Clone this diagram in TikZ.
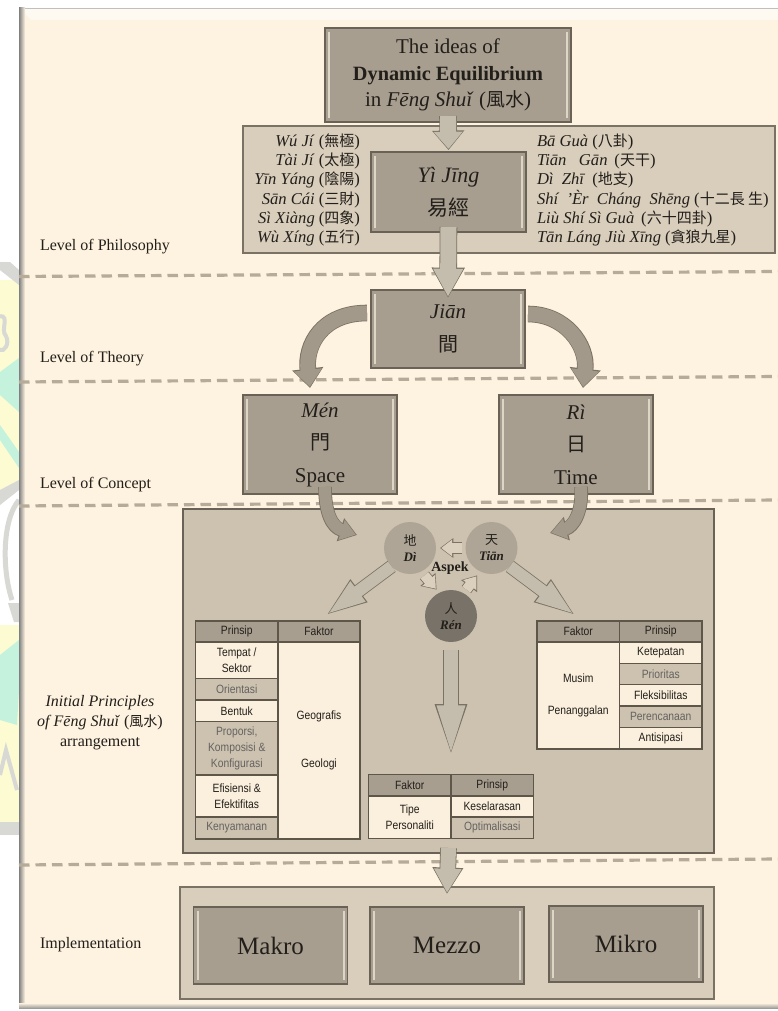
\documentclass[tikz,border=0pt]{standalone}
\usepackage{fontspec}
\setmainfont{Liberation Serif}
\newfontfamily\cjk{Noto Sans CJK TC}
\newfontfamily\tblfont[FakeStretch=0.86]{Liberation Sans}
\usetikzlibrary{arrows.meta,calc,shapes.arrows}
\definecolor{panelbg}{HTML}{FEF2E0}
\definecolor{boxfill}{HTML}{A89E90}
\definecolor{boxline}{HTML}{6A6256}
\definecolor{bevelc}{HTML}{DDD5C6}
\definecolor{philfill}{HTML}{D9CDBC}
\definecolor{bigfill}{HTML}{CDC2B0}
\definecolor{dashc}{HTML}{B5AB98}
\definecolor{inkc}{HTML}{221F1A}
\definecolor{arrowfill}{HTML}{C4BCAC}
\definecolor{arrowline}{HTML}{7A7264}
\definecolor{curvefill}{HTML}{A2998A}
\definecolor{hdrfill}{HTML}{A89E90}
\definecolor{cellcream}{HTML}{FBEFDD}
\definecolor{cellgrey}{HTML}{CDC2B0}
\definecolor{cellline}{HTML}{5E5648}
\definecolor{wmyellow}{HTML}{FCFBD2}
\definecolor{wmgreen}{HTML}{C4F2DC}
\definecolor{wmgrey}{HTML}{D8D8D4}
\newcommand{\cj}[1]{{\cjk #1}}
\newcommand{\tz}[1]{\fontsize{#1}{#1}\selectfont}
\tikzset{
  x=1pt,y=-1pt,
  every node/.style={text=inkc,inner sep=0pt,outer sep=0pt},
  bevel/.style={path picture={
     \draw[bevelc,line width=2pt]
       ([xshift=4pt,yshift=-4pt]path picture bounding box.north west) -- ([xshift=4pt,yshift=4pt]path picture bounding box.south west)
       ([xshift=-4pt,yshift=-4pt]path picture bounding box.north east) -- ([xshift=-4pt,yshift=4pt]path picture bounding box.south east);
  }},
  darkbox/.style={draw=boxline,line width=1.2pt,fill=boxfill,bevel,align=center},
  phbox/.style={draw=arrowline,line width=1.2pt,fill=philfill},
  bigbox/.style={draw=boxline,line width=1.6pt,fill=bigfill},
  level/.style={font=\tz{16},anchor=west},
  cell/.style={draw=cellline,line width=1.1pt,align=center,font=\tblfont\fontsize{12}{16}\selectfont},
  hdr/.style={cell,fill=hdrfill},
  cr/.style={cell,fill=cellcream},
  gr/.style={cell,fill=cellgrey,text=inkc!70},
  circ/.style={circle,minimum size=52pt,align=center,fill=#1,draw=none},
  levelline/.style={dashc,line width=3.2pt,dash pattern=on 10.5pt off 6pt},
  boxa/.style={darkbox,font=\fontsize{21}{26.6}\selectfont},
  boxb/.style={darkbox,font=\fontsize{22}{33}\selectfont},
  boxc/.style={darkbox,font=\fontsize{21}{32.5}\selectfont},
  boxd/.style={darkbox,font=\fontsize{25}{25}\selectfont},
  listfont/.style={font=\fontsize{16.6}{19.2}\selectfont},
}
% box from corners
\newcommand{\bx}[6]{%
  \pgfmathsetmacro\bw{#4-#2}\pgfmathsetmacro\bh{#5-#3}%
  \node[#1,minimum width=\bw pt,minimum height=\bh pt] (#6) at ({(#2+#4)/2},{(#3+#5)/2})}
% block arrow along a path, with outline
\newcommand{\blockarrow}[5]{% shaft, head w, head l, colour, path
  \pgfmathsetmacro\oa{#1+1.6}\pgfmathsetmacro\ob{#3+2.4}\pgfmathsetmacro\oc{#2+3}%
  \draw[arrowline,line width=\oa pt,-{Triangle[length=\ob pt,width=\oc pt]}] #5;
  \draw[#4,line width=#1pt,shorten >=1.2pt,-{Triangle[length=#3pt,width=#2pt]}] #5;}
\begin{document}
\begin{tikzpicture}
\useasboundingbox (0,0) rectangle (778,1011);
\fill[white] (0,0) rectangle (778,1011);
% faint watermark beside the sheet
\begin{scope}
\clip (0,262) rectangle (19,835);
\fill[wmyellow] (0,280) rectangle (19,490);
\fill[wmgreen] (0,372) -- (19,358) -- (19,412) -- (0,395) -- cycle;
\fill[wmgreen] (0,425) -- (19,452) -- (19,468) -- (0,440) -- cycle;
\fill[wmgrey] (0,262) -- (10,262) -- (19,270) -- (19,285) -- (0,270) -- cycle;
\draw[wmgrey,line width=4pt] (0,316) .. controls (10,316) and (0,330) .. (6,336) .. controls (10,344) and (4,352) .. (0,350);
\fill[wmgrey] (0,490) -- (19,480) -- (19,490) -- (0,505) -- cycle;
\draw[wmgrey,line width=5pt] (19,500) .. controls (2,520) and (2,570) .. (12,600);
\fill[wmgrey] (8,603) -- (19,603) -- (19,622) -- (14,622) -- cycle;
\fill[wmyellow] (0,625) rectangle (19,830);
\fill[wmgreen] (0,655) -- (19,640) -- (19,690) -- (17,725) -- (0,720) -- cycle;
\draw[wmgrey,line width=4pt] (0,775) -- (6,750) -- (17,790);
\fill[wmgrey] (0,822) rectangle (19,835);
\end{scope}
% sheet
\fill[panelbg] (19,8) rectangle (778,1009);
\fill[panelbg!45!white] (19,8) -- (778,8) -- (778,20) -- (31,20) -- cycle;
\fill[black!25] (19,8) rectangle (778,8.8);
\shade[left color=black!50,right color=panelbg] (19,8) rectangle (25,1009);
\shade[top color=panelbg,bottom color=black!45] (19,1003) rectangle (778,1009);
\fill[white] (0,1009) rectangle (778,1011);
% level lines
\coordinate (l1a) at (19,276.5); \coordinate (l1b) at (778,271.5);
\coordinate (l2a) at (19,382); \coordinate (l2b) at (778,376.5);
\coordinate (l3a) at (19,506); \coordinate (l3b) at (778,500);
\coordinate (l4a) at (19,865); \coordinate (l4b) at (778,859);
\draw[levelline] (l1a) -- (l1b);
\draw[levelline] (l2a) -- (l2b);
\draw[levelline] (l3a) -- (l3b);
\draw[levelline] (l4a) -- (l4b);
% level labels
\node[level] (lphil) at (40,247) {Level of Philosophy};
\node[level] (ltheo) at (40,359) {Level of Theory};
\node[level] (lconc) at (40,485) {Level of Concept};
\node[font=\fontsize{16}{20}\selectfont,align=center] (linit) at (100,723) {\textit{Initial Principles}\\\textit{of Fēng Shuǐ} (\cj{\tz{14}風水})\\arrangement};
\node[level] (limpl) at (40,945) {Implementation};
% philosophy block
\bx{phbox}{243}{126}{775}{253}{ph} {};
\bx{boxa}{325}{28}{571}{122}{top} {The ideas of\\{\fontsize{20.3}{26.6}\selectfont\textbf{Dynamic Equilibrium}}\\in \textit{Fēng Shuǐ} (\cj{\tz{19}風水})};
\bx{boxb}{371}{152}{526}{232}{yi} {\textit{Yì Jīng}\\\cj{\tz{21}易經}};
\node[anchor=east,align=right,listfont] (listl) at (360,190) {\textit{Wú Jí} (\cj{\tz{15}無極})\\\textit{Tài Jí} (\cj{\tz{15}太極})\\\textit{Yīn Yáng} (\cj{\tz{15}陰陽})\\\textit{Sān Cái} (\cj{\tz{15}三財})\\\textit{Sì Xiàng} (\cj{\tz{15}四象})\\\textit{Wù Xíng} (\cj{\tz{15}五行})};
\node[anchor=west,align=left,listfont] (listr) at (537,190) {\textit{Bā Guà} (\cj{\tz{15}八卦})\\\textit{Tiān\ \ \ Gān}\ \,(\cj{\tz{15}天干})\\\textit{Dì\ \ Zhī}\ \,(\cj{\tz{15}地支})\\\textit{Shí\ \ 'Èr\ \ Cháng\ \ Shēng} (\cj{\tz{15}十二長 生})\\\textit{Liù Shí Sì Guà}\ \,(\cj{\tz{15}六十四卦})\\\textit{Tān Láng Jiù Xīng} (\cj{\tz{15}貪狼九星})};
% theory / concept
\bx{boxc}{371}{290}{525}{368}{jian} {\textit{Jiān}\\\cj{\tz{20}間}};
\bx{boxc}{243}{395}{397}{494}{men} {\textit{Mén}\\\cj{\tz{20}門}\\Space};
\bx{boxc}{499}{395}{653}{494}{ri} {\textit{Rì}\\\cj{\tz{20}日}\\Time};
% big panel
\bx{bigbox}{183}{509}{714}{853}{big} {};
\bx{phbox}{180}{887}{714}{999}{impl} {};
\bx{boxd}{193.5}{907}{347.5}{984}{makro} {Makro};
\bx{boxd}{370}{907}{524}{984}{mezzo} {Mezzo};
\bx{boxd}{549}{906}{703}{982}{mikro} {Mikro};
% circles
\node[circ=cellgrey!85!black] (di) at (410,548) {\cj{\tz{13}地}\\[4pt]\textbf{\textit{\tz{13}Dì}}};
\node[circ=cellgrey!85!black] (tian) at (491.5,548) {\cj{\tz{13}天}\\[4pt]\textbf{\textit{\tz{13}Tiān}}};
\node[circ=boxfill!72!black] (ren) at (451,616) {\cj{\tz{13}人}\\[4pt]\textbf{\textit{\tz{13}Rén}}};
% left table
\bx{hdr}{195.5}{621}{278}{642}{h1} {Prinsip};
\bx{hdr}{278}{621}{360}{642}{h2} {Faktor};
\bx{cr}{195.5}{642}{278}{678.5}{a1} {Tempat /\\Sektor};
\bx{gr}{195.5}{678.5}{278}{700}{a2} {Orientasi};
\bx{cr}{195.5}{700}{278}{721.5}{a3} {Bentuk};
\bx{gr}{195.5}{721.5}{278}{775}{a4} {Proporsi,\\Komposisi \&\\Konfigurasi};
\bx{cr}{195.5}{775}{278}{817}{a5} {Efisiensi \&\\Efektifitas};
\bx{gr}{195.5}{817}{278}{839}{a6} {Kenyamanan};
\bx{cr}{278}{642}{360}{839}{a7} {Geografis\\[32pt]Geologi};
% right table
\bx{hdr}{537}{621}{619.5}{642}{h3} {Faktor};
\bx{hdr}{619.5}{621}{702}{642}{h4} {Prinsip};
\bx{cr}{537}{642}{619.5}{749}{b0} {Musim\\[16pt]Penanggalan};
\bx{cr}{619.5}{642}{702}{663.5}{b1} {Ketepatan};
\bx{gr}{619.5}{663.5}{702}{684.5}{b2} {Prioritas};
\bx{cr}{619.5}{684.5}{702}{706}{b3} {Fleksibilitas};
\bx{gr}{619.5}{706}{702}{727.5}{b4} {Perencanaan};
\bx{cr}{619.5}{727.5}{702}{749}{b5} {Antisipasi};
% middle table
\bx{hdr}{368.5}{774.5}{451}{796}{h5} {Faktor};
\bx{hdr}{451}{774.5}{533.5}{796}{h6} {Prinsip};
\bx{cr}{368.5}{796}{451}{838.5}{c0} {Tipe\\Personaliti};
\bx{cr}{451}{796}{533.5}{817}{c1} {Keselarasan};
\bx{gr}{451}{817}{533.5}{838.5}{c2} {Optimalisasi};
% straight block arrows
\blockarrow{16}{28}{17}{arrowfill}{([yshift=6pt]top.south) -- ([yshift=2pt]yi.north)}
\blockarrow{16}{28}{28}{arrowfill}{([yshift=5pt]yi.south) -- ([yshift=-8pt]jian.north)}
\blockarrow{15}{26}{24}{arrowfill}{([yshift=5pt]big.south) -- ([yshift=-7pt]impl.north)}
\blockarrow{14}{23}{60}{arrowfill}{([yshift=-8pt]ren.south) -- ([yshift=8pt]h6.north west)}
\blockarrow{12}{22}{40}{arrowfill}{(di.225) -- ([xshift=6pt,yshift=5pt]h2.north)}
\blockarrow{12}{22}{40}{arrowfill}{(tian.-45) -- ([xshift=-2pt,yshift=5pt]h3.north)}
% curved block arrows
\blockarrow{15}{27}{17}{curvefill}{([xshift=-4pt,yshift=16pt]jian.west) .. controls (322,313) and (305,345) .. ([xshift=-10pt,yshift=7pt]men.north)}
\blockarrow{15}{27}{17}{curvefill}{([xshift=3pt,yshift=15pt]jian.east) .. controls (565,314) and (588,345) .. ([xshift=7pt,yshift=7pt]ri.north)}
\blockarrow{12}{20}{15}{curvefill}{([xshift=5pt,yshift=7pt]men.south) .. controls (325,513) and (332,527) .. ([xshift=-27pt,yshift=13pt]di.west)}
\blockarrow{12}{20}{15}{curvefill}{([xshift=5pt,yshift=7pt]ri.south) .. controls (583,512) and (573,527) .. ([xshift=32.5pt,yshift=15pt]tian.east)}
% small arrows around Aspek
\blockarrow{10}{16}{11}{bigfill!70!cellcream}{([xshift=-4pt]tian.west) -- ([xshift=4pt]di.east)}
\blockarrow{10}{16}{11}{bigfill!70!cellcream}{([xshift=-4pt,yshift=-9pt]di.south east) -- ([xshift=4pt,yshift=8pt]ren.north west)}
\blockarrow{10}{16}{11}{bigfill!70!cellcream}{([xshift=-3pt,yshift=8pt]ren.north east) -- ([xshift=4pt,yshift=-9pt]tian.south west)}
\node[font=\bfseries\tz{14}] (aspek) at (450,568) {Aspek};
\end{tikzpicture}
\end{document}
